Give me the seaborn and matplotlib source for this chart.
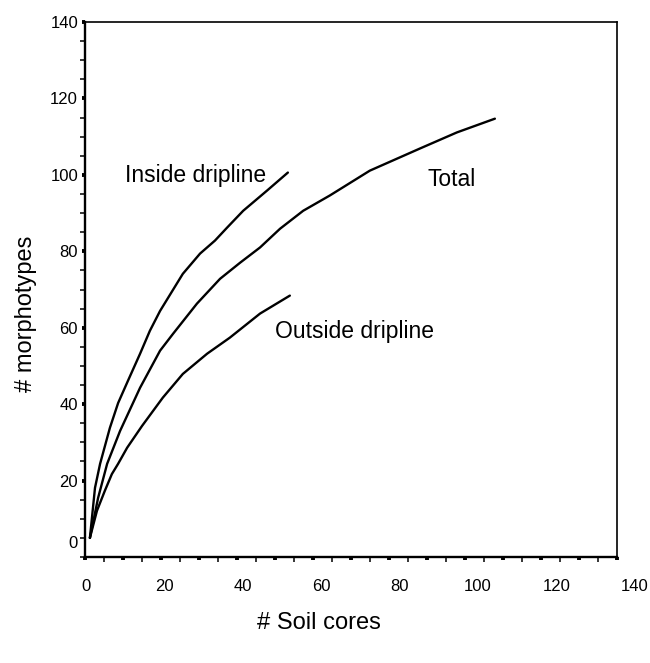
import numpy as np
import pandas as pd
import matplotlib
matplotlib.use("Agg")
import matplotlib.pyplot as plt
import seaborn as sns

# ---- data ----
inside_x = [1, 2.3, 3.6, 6.1, 8.2, 10.7, 13.8, 16.3, 18.9, 24.7, 29.1, 32.9, 36.0, 40.1, 46.2, 51.5]
inside_y = [5, 18.1, 24.4, 33.8, 40.3, 46.1, 53.2, 59.2, 64.4, 74.1, 79.4, 82.8, 86.2, 90.6, 95.9, 100.6]

total_x = [1, 3.1, 5.4, 8.7, 13.8, 18.9, 22.2, 28.3, 34.2, 39.3, 44.4, 49.5, 55.4, 62.2, 72.4, 85.2, 94.6, 104.3]
total_y = [5, 15.5, 24.4, 33.0, 44.3, 54.0, 58.4, 66.3, 72.8, 77.0, 81.0, 85.9, 90.6, 94.6, 101.1, 106.9, 111.1, 114.7]

outside_x = [1, 2.8, 4.8, 6.6, 8.2, 10.5, 14.3, 19.6, 24.7, 30.9, 36.7, 41.1, 44.4, 52.0]
outside_y = [5, 12.1, 17.3, 21.7, 24.4, 28.6, 34.3, 41.7, 47.9, 53.2, 57.4, 61.0, 63.7, 68.4]

series_names = ["Inside dripline", "Total", "Outside dripline"]
x_tick_labels = [0, 20, 40, 60, 80, 100, 120, 140]
y_tick_labels = [20, 40, 60, 80, 100, 120, 140]

df = pd.concat([
    pd.DataFrame({"cores": inside_x, "morph": inside_y, "group": series_names[0]}),
    pd.DataFrame({"cores": total_x, "morph": total_y, "group": series_names[1]}),
    pd.DataFrame({"cores": outside_x, "morph": outside_y, "group": series_names[2]}),
], ignore_index=True)

# ---- style ----
sns.set_style("ticks")
plt.rcParams["font.family"] = ["Liberation Sans", "DejaVu Sans"]
plt.rcParams["text.color"] = "black"
plt.rcParams["axes.labelcolor"] = "black"
plt.rcParams["xtick.color"] = "black"
plt.rcParams["ytick.color"] = "black"

W, H = 650, 663
fig = plt.figure(figsize=(W / 100, H / 100), dpi=100)
ax = fig.add_axes([85 / W, 106 / H, 532 / W, 535 / H])

sns.lineplot(data=df, x="cores", y="morph", units="group", estimator=None,
             sort=False, color="black", lw=1.7, ax=ax)

x0, x1 = -0.25, 135.45
ax.set_xlim(x0, x1)
ax.set_ylim(0, 140)

# frame
for side in ["left", "bottom"]:
    ax.spines[side].set_linewidth(1.7)
for side in ["top", "right"]:
    ax.spines[side].set_visible(True)
    ax.spines[side].set_linewidth(1.2)
for s in ax.spines.values():
    s.set_color("black")

# y ticks
ax.set_yticks(y_tick_labels)
ax.set_yticklabels([str(v) for v in y_tick_labels], fontsize=12, color="black")
ax.set_yticks(np.arange(0, 141, 5), minor=True)
ax.tick_params(axis="y", which="major", direction="out", length=2.5, width=2.8, pad=2.5, colors="black")
ax.tick_params(axis="y", which="minor", direction="out", length=3.5, width=1.1, colors="black")
ax.text(-0.013, 3.5, "0", transform=ax.get_yaxis_transform(), ha="right", va="center",
        fontsize=12, color="black")

# x ticks: evenly spaced marks along the frame, labels placed separately
xt = np.linspace(x0, x1, 29)
ax.set_xticks(xt[::2])
ax.set_xticklabels([])
ax.set_xticks(xt[1::2], minor=True)
ax.tick_params(axis="x", which="major", direction="out", length=2.5, width=2.8, colors="black")
ax.tick_params(axis="x", which="minor", direction="out", length=3.5, width=1.1, colors="black")
for v in x_tick_labels:
    ax.text(v, -0.056, str(v), transform=ax.get_xaxis_transform(), ha="center", va="center",
            fontsize=12, color="black", clip_on=False)

ax.set_xlabel("")
ax.set_ylabel("")
fig.text(26 / W, 1 - 314 / H, "# morphotypes", rotation=90, ha="center", va="center",
         fontsize=17, color="black")
fig.text(319 / W, 1 - 623 / H, "# Soil cores", ha="center", va="center", fontsize=17,
         color="black")

# curve labels
ax.text(9.95, 98.1, series_names[0], ha="left", va="baseline", fontsize=16.5, color="black")
ax.text(87.0, 97.0, series_names[1], ha="left", va="baseline", fontsize=16.5, color="black")
ax.text(48.2, 57.2, series_names[2], ha="left", va="baseline", fontsize=16.5, color="black")

fig.savefig("out.png", dpi=100, facecolor="white")
